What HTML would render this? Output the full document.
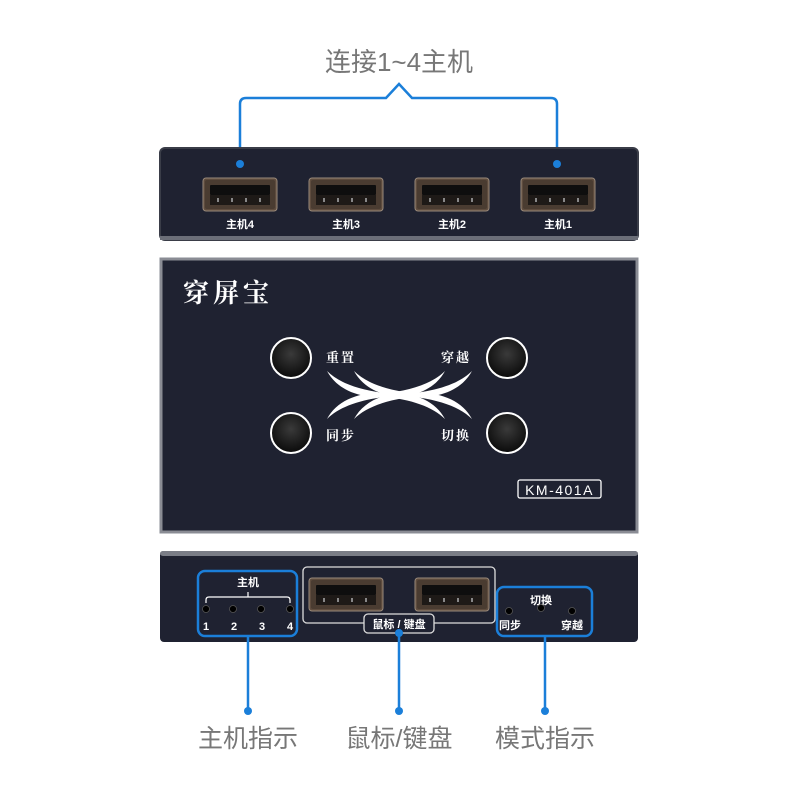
<!DOCTYPE html>
<html><head><meta charset="utf-8"><style>
html,body{margin:0;padding:0;background:#fff;}
svg{display:block}
text{font-family:"Liberation Sans","Noto Sans CJK SC",sans-serif;}
.s{font-family:"Noto Serif CJK SC","Liberation Serif",serif;}
</style></head><body>
<svg width="800" height="800" viewBox="0 0 800 800" xmlns="http://www.w3.org/2000/svg">
<defs>
<g id="usb">
<rect x="0" y="0" width="74" height="33" rx="3" fill="#5e4c3e" stroke="#9a8a7a" stroke-width="1"/>
<rect x="2" y="2" width="70" height="29" rx="2" fill="#4a3c31"/>
<rect x="7" y="7" width="60" height="10" rx="1" fill="#0e0e0e"/>
<rect x="7" y="17" width="60" height="10" fill="#1e1a17"/>
<rect x="14" y="20" width="2" height="4" fill="#888"/><rect x="28" y="20" width="2" height="4" fill="#888"/>
<rect x="42" y="20" width="2" height="4" fill="#888"/><rect x="56" y="20" width="2" height="4" fill="#888"/>
</g>
<radialGradient id="btn" cx="0.5" cy="0.4" r="0.6"><stop offset="0" stop-color="#3a3a3a"/><stop offset="1" stop-color="#0a0a0a"/></radialGradient>
<path id="arm" d="M0,0 C14,14 40,22 80,24 C40,31 12,22 0,0 Z"/>
</defs>

<text x="399" y="71" font-size="26" fill="#777" text-anchor="middle">连接1~4主机</text>
<path d="M240,164 V104 Q240,98 246,98 H386 L399,84 L412,98 H551 Q557,98 557,104 V164" fill="none" stroke="#1b7fd9" stroke-width="2.5"/>

<rect x="160" y="148" width="478" height="92" rx="5" fill="#1f2231" stroke="#3a3d48" stroke-width="2"/>
<rect x="160" y="236" width="478" height="4" fill="#6b6e78"/>
<circle cx="240" cy="164" r="4" fill="#1b7fd9"/><circle cx="557" cy="164" r="4" fill="#1b7fd9"/>
<use href="#usb" x="203" y="178"/><use href="#usb" x="309" y="178"/><use href="#usb" x="415" y="178"/><use href="#usb" x="521" y="178"/>
<g font-size="11" fill="#fff" font-weight="bold" text-anchor="middle">
<text x="240" y="228">主机4</text><text x="346" y="228">主机3</text><text x="452" y="228">主机2</text><text x="558" y="228">主机1</text>
</g>

<rect x="161" y="259" width="476" height="273" fill="#1f2231" stroke="#8a8c94" stroke-width="3"/>
<text x="183" y="302" class="s" font-size="26" font-weight="bold" fill="#fff" letter-spacing="4">穿屏宝</text>
<g stroke="#fff" stroke-width="2" fill="url(#btn)">
<circle cx="291" cy="358" r="20"/><circle cx="507" cy="358" r="20"/><circle cx="291" cy="433" r="20"/><circle cx="507" cy="433" r="20"/>
</g>
<g font-size="13" fill="#fff" font-weight="bold" letter-spacing="2">
<text x="326" y="362" class="s">重置</text><text x="441" y="362" class="s">穿越</text>
<text x="326" y="440" class="s">同步</text><text x="441" y="440" class="s">切换</text>
</g>
<g fill="#fff">
<use href="#arm" transform="translate(327,371)"/>
<use href="#arm" transform="translate(354,371)"/>
<use href="#arm" transform="translate(327,419) scale(1,-1)"/>
<use href="#arm" transform="translate(354,419) scale(1,-1)"/>
<use href="#arm" transform="translate(472,371) scale(-1,1)"/>
<use href="#arm" transform="translate(445,371) scale(-1,1)"/>
<use href="#arm" transform="translate(472,419) scale(-1,-1)"/>
<use href="#arm" transform="translate(445,419) scale(-1,-1)"/>
</g>
<rect x="518" y="480" width="83" height="18" rx="2" fill="none" stroke="#fff" stroke-width="1.3"/>
<text x="559.5" y="495" font-size="14" fill="#fff" text-anchor="middle" letter-spacing="1.5">KM-401A</text>

<rect x="160" y="551" width="478" height="91" rx="4" fill="#1f2231"/>
<rect x="160" y="551" width="478" height="5" rx="3" fill="#7a7d86"/>
<rect x="198" y="571" width="99" height="65" rx="7" fill="none" stroke="#1b7fd9" stroke-width="2.5"/>
<text x="248" y="586" font-size="11" fill="#fff" font-weight="bold" text-anchor="middle">主机</text>
<path d="M206,603 V600 Q206,597 209,597 H287 Q290,597 290,600 V603 M248,597 V592" fill="none" stroke="#fff" stroke-width="1.2"/>
<g fill="#000" stroke="#555" stroke-width="0.8"><circle cx="206" cy="609" r="3.5"/><circle cx="233" cy="609" r="3.5"/><circle cx="261" cy="609" r="3.5"/><circle cx="290" cy="609" r="3.5"/></g>
<g font-size="11" fill="#fff" font-weight="bold" text-anchor="middle"><text x="206" y="630">1</text><text x="234" y="630">2</text><text x="262" y="630">3</text><text x="290" y="630">4</text></g>
<rect x="303" y="567" width="192" height="56" rx="4" fill="none" stroke="#ddd" stroke-width="1.3"/>
<use href="#usb" x="309" y="578"/><use href="#usb" x="415" y="578"/>
<rect x="364" y="614" width="70" height="19" rx="4" fill="#1f2231" stroke="#ddd" stroke-width="1.3"/>
<text x="399" y="628" font-size="11" fill="#fff" font-weight="bold" text-anchor="middle">鼠标 / 键盘</text>
<rect x="497" y="587" width="95" height="49" rx="7" fill="none" stroke="#1b7fd9" stroke-width="2.5"/>
<text x="541" y="604" font-size="11" fill="#fff" font-weight="bold" text-anchor="middle">切换</text>
<g fill="#000" stroke="#555" stroke-width="0.8"><circle cx="509" cy="611" r="3.5"/><circle cx="541" cy="608" r="3.5"/><circle cx="572" cy="611" r="3.5"/></g>
<text x="510" y="629" font-size="11" fill="#fff" font-weight="bold" text-anchor="middle">同步</text>
<text x="572" y="629" font-size="11" fill="#fff" font-weight="bold" text-anchor="middle">穿越</text>

<g stroke="#1b7fd9" stroke-width="2.5"><line x1="248" y1="636" x2="248" y2="711"/><line x1="399" y1="633" x2="399" y2="711"/><line x1="545" y1="636" x2="545" y2="711"/></g>
<g fill="#1b7fd9"><circle cx="248" cy="711" r="4"/><circle cx="399" cy="711" r="4"/><circle cx="399" cy="633" r="4"/><circle cx="545" cy="711" r="4"/></g>
<g font-size="25" fill="#777" text-anchor="middle">
<text x="248" y="747">主机指示</text><text x="399" y="747">鼠标/键盘</text><text x="545" y="747">模式指示</text>
</g>
</svg>
</body></html>
